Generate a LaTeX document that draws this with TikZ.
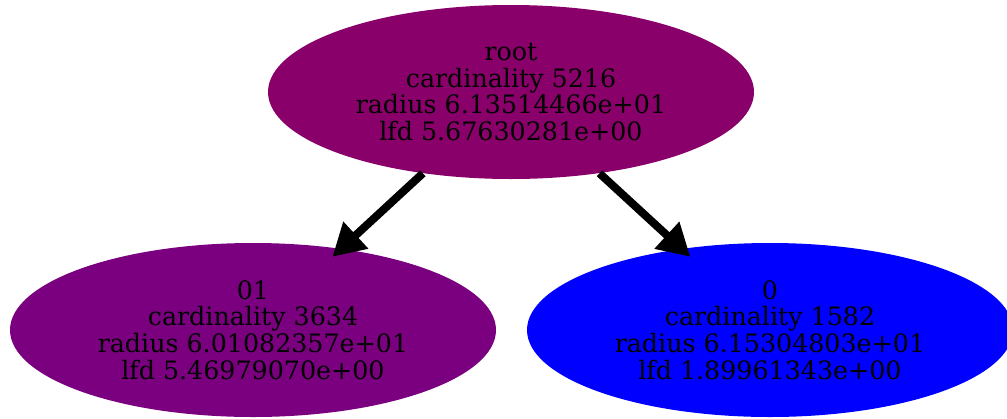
\documentclass[tikz,border=0pt]{standalone}
\usepackage{fontspec}
\setmainfont{DejaVu Serif}
\usetikzlibrary{shapes.geometric,arrows.meta}
\definecolor{rootfill}{RGB}{137,0,106}
\definecolor{leftfill}{RGB}{122,0,128}
\definecolor{rightfill}{RGB}{0,0,255}
\tikzset{
  cluster/.style={ellipse, draw=none, fill=#1, inner sep=0pt,
    minimum width=364.5pt, minimum height=130.5pt, align=center,
    font=\fontsize{19pt}{20pt}\selectfont},
  edge/.style={line width=6pt, shorten >=-9pt,
    -{Triangle[length=24pt,width=26pt]}}
}
\begin{document}
\begin{tikzpicture}[x=0.75pt,y=-0.75pt]
  \useasboundingbox (0,0) rectangle (1007,418);
  \node[cluster=rootfill] (root) at (511,92)
    {root\\cardinality 5216\\radius 6.13514466e+01\\lfd 5.67630281e+00};
  \node[cluster=leftfill] (n01) at (253,330)
    {01\\cardinality 3634\\radius 6.01082357e+01\\lfd 5.46979070e+00};
  \node[cluster=rightfill] (n0) at (770,330)
    {0\\cardinality 1582\\radius 6.15304803e+01\\lfd 1.89961343e+00};
  \draw[edge] (root) -- (n01);
  \draw[edge] (root) -- (n0);
\end{tikzpicture}
\end{document}
